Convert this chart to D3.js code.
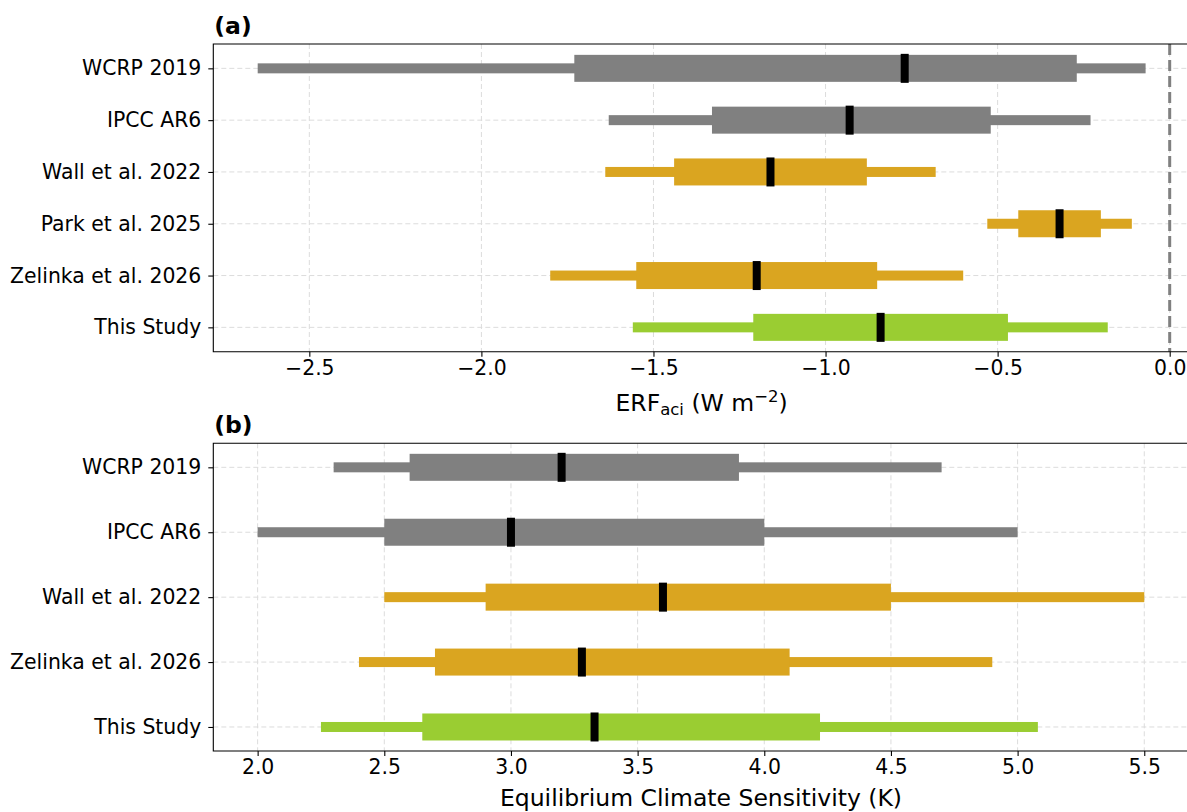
<!DOCTYPE html>
<html>
<head>
<meta charset="utf-8">
<script src="https://cdn.jsdelivr.net/npm/d3@7"></script>
<style>
  body { margin: 0; background: #fff; overflow: hidden; }
  svg { display: block; font-family: 'DejaVu Sans', sans-serif; }
</style>
</head>
<body>
<div id="chart"></div>
<script>
// panel (a): ERFaci
const erfStudies = ['WCRP 2019', 'IPCC AR6', 'Wall et al. 2022', 'Park et al. 2025', 'Zelinka et al. 2026', 'This Study']
const erfLo90 = [-2.65, -1.63, -1.64, -0.53, -1.80, -1.56]
const erfLo68 = [-1.73, -1.33, -1.44, -0.44, -1.55, -1.21]
const erfMed = [-0.77, -0.93, -1.16, -0.32, -1.20, -0.84]
const erfHi68 = [-0.27, -0.52, -0.88, -0.20, -0.85, -0.47]
const erfHi90 = [-0.07, -0.23, -0.68, -0.11, -0.60, -0.18]
const erfTicks = [-2.5, -2.0, -1.5, -1.0, -0.5, 0.0]

// panel (b): ECS
const ecsStudies = ['WCRP 2019', 'IPCC AR6', 'Wall et al. 2022', 'Zelinka et al. 2026', 'This Study']
const ecsLo90 = [2.30, 2.0, 2.5, 2.4, 2.25]
const ecsLo68 = [2.6, 2.5, 2.9, 2.7, 2.65]
const ecsMed = [3.2, 3.0, 3.6, 3.28, 3.33]
const ecsHi68 = [3.9, 4.0, 4.5, 4.1, 4.22]
const ecsHi90 = [4.7, 5.0, 5.5, 4.9, 5.08]
const ecsTicks = [2.0, 2.5, 3.0, 3.5, 4.0, 4.5, 5.0, 5.5]

const studyColor = {
  'WCRP 2019': '#808080',
  'IPCC AR6': '#808080',
  'Wall et al. 2022': '#DAA520',
  'Park et al. 2025': '#DAA520',
  'Zelinka et al. 2026': '#DAA520',
  'This Study': '#9ACD32'
}

const width = 1187
const height = 812
const tickFont = 20.4
const labelFont = 23.5

const svg = d3.select('#chart')
  .append('svg')
  .attr('width', width)
  .attr('height', height)

function drawPanel(opts) {
  const x = d3.scaleLinear().domain(opts.xDomain).range([opts.left, opts.right])
  const y = d3.scaleLinear().domain(opts.yDomain).range([opts.top, opts.bottom])
  const g = svg.append('g')
  const n = opts.studies.length
  const idx = d3.range(n)

  // grid
  g.selectAll('.vgrid').data(opts.ticks).enter()
    .append('line')
    .attr('x1', d => x(d)).attr('x2', d => x(d))
    .attr('y1', opts.top).attr('y2', opts.bottom)
    .attr('stroke', '#dcdcdc').attr('stroke-width', 1)
    .attr('stroke-dasharray', '5,3')
  g.selectAll('.hgrid').data(idx).enter()
    .append('line')
    .attr('x1', opts.left).attr('x2', opts.right)
    .attr('y1', d => y(d)).attr('y2', d => y(d))
    .attr('stroke', '#dcdcdc').attr('stroke-width', 1)
    .attr('stroke-dasharray', '5,3')

  if (opts.zeroLine) {
    g.append('line')
      .attr('x1', x(0)).attr('x2', x(0))
      .attr('y1', opts.top).attr('y2', opts.bottom)
      .attr('stroke', '#808080').attr('stroke-width', 3)
      .attr('stroke-dasharray', '11,5')
  }

  // 90% range
  g.selectAll('.thin').data(idx).enter()
    .append('rect')
    .attr('x', i => x(opts.lo90[i]))
    .attr('width', i => x(opts.hi90[i]) - x(opts.lo90[i]))
    .attr('y', i => y(i) - 5)
    .attr('height', 10)
    .attr('fill', i => studyColor[opts.studies[i]])

  // 68% range
  g.selectAll('.thick').data(idx).enter()
    .append('rect')
    .attr('x', i => x(opts.lo68[i]))
    .attr('width', i => x(opts.hi68[i]) - x(opts.lo68[i]))
    .attr('y', i => y(i) - 13.5)
    .attr('height', 27)
    .attr('fill', i => studyColor[opts.studies[i]])

  // median
  g.selectAll('.med').data(idx).enter()
    .append('rect')
    .attr('x', i => x(opts.med[i]) - 4)
    .attr('width', 8)
    .attr('y', i => y(i) - 14.5)
    .attr('height', 29)
    .attr('fill', '#000')

  // axes
  const xAxis = d3.axisBottom(x)
    .tickValues(opts.ticks)
    .tickFormat(d3.format('.1f'))
    .tickSize(5)
    .tickPadding(4)
  const gx = g.append('g')
    .attr('transform', 'translate(0,' + opts.bottom + ')')
    .call(xAxis)
  gx.select('.domain').remove()
  gx.selectAll('text').attr('font-size', tickFont).attr('fill', '#000').attr('font-family', 'DejaVu Sans')
  gx.selectAll('line').attr('stroke', '#000').attr('stroke-width', 1.1)

  const yAxis = d3.axisLeft(y)
    .tickValues(idx)
    .tickFormat(i => opts.studies[i])
    .tickSize(5)
    .tickPadding(7)
  const gy = g.append('g')
    .attr('transform', 'translate(' + opts.left + ',0)')
    .call(yAxis)
  gy.select('.domain').remove()
  gy.selectAll('text').attr('font-size', tickFont).attr('fill', '#000').attr('font-family', 'DejaVu Sans')
  gy.selectAll('line').attr('stroke', '#000').attr('stroke-width', 1.1)

  // frame: right spine falls outside the picture
  g.append('path')
    .attr('d', 'M' + width + ',' + opts.top + 'H' + opts.left + 'V' + opts.bottom + 'H' + width)
    .attr('fill', 'none')
    .attr('stroke', '#000')
    .attr('stroke-width', 1.1)

  g.append('text')
    .attr('x', opts.left + 1)
    .attr('y', opts.top - 10)
    .attr('font-size', labelFont)
    .attr('font-weight', 'bold')
    .text(opts.title)

  return { g, x, y }
}

const a = drawPanel({
  studies: erfStudies, lo90: erfLo90, lo68: erfLo68, med: erfMed, hi68: erfHi68, hi90: erfHi90,
  ticks: erfTicks, xDomain: [-2.779, 0.059], yDomain: [-0.47, 5.47],
  left: 213.3, right: 1190, top: 44, bottom: 351.7, zeroLine: true, title: '(a)'
})

const b = drawPanel({
  studies: ecsStudies, lo90: ecsLo90, lo68: ecsLo68, med: ecsMed, hi68: ecsHi68, hi90: ecsHi90,
  ticks: ecsTicks, xDomain: [1.825, 5.675], yDomain: [-0.37, 4.37],
  left: 213.3, right: 1188.6, top: 443.3, bottom: 751, zeroLine: false, title: '(b)'
})

// axis labels
const la = svg.append('text')
  .attr('x', 701.6)
  .attr('y', 411)
  .attr('text-anchor', 'middle')
  .attr('font-size', labelFont)
la.append('tspan').text('ERF')
la.append('tspan').attr('font-size', 16.5).attr('dy', 4).text('aci')
la.append('tspan').attr('dy', -4).text(' (W m')
la.append('tspan').attr('font-size', 16.5).attr('dy', -9).text('−2')
la.append('tspan').attr('dy', 9).text(')')

svg.append('text')
  .attr('x', 701)
  .attr('y', 806)
  .attr('text-anchor', 'middle')
  .attr('font-size', labelFont)
  .text('Equilibrium Climate Sensitivity (K)')
</script>
</body>
</html>
